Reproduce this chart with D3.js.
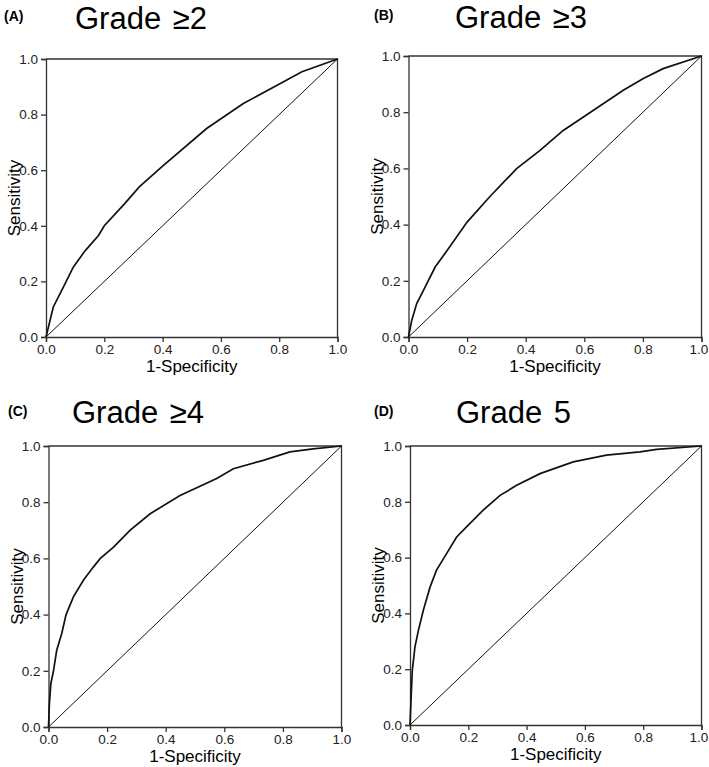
<!DOCTYPE html>
<html>
<head>
<meta charset="utf-8">
<script src="https://cdn.jsdelivr.net/npm/d3@7"></script>
<style>
  body { margin: 0; background: #fff; }
  svg { display: block; font-family: "Liberation Sans", Arial, sans-serif; }
</style>
</head>
<body>
<svg id="chart" width="709" height="767"></svg>
<script>
// ROC curves (1-specificity, sensitivity)
const fprA = [0, 0.025, 0.06, 0.094, 0.134, 0.18, 0.2, 0.27, 0.32, 0.397, 0.551, 0.677, 0.815, 0.878, 1];
const tprA = [0, 0.108, 0.18, 0.252, 0.31, 0.365, 0.40, 0.48, 0.54, 0.612, 0.75, 0.84, 0.918, 0.954, 1];

const fprB = [0, 0.011, 0.028, 0.051, 0.091, 0.136, 0.2, 0.278, 0.369, 0.449, 0.528, 0.597, 0.733, 0.80, 0.869, 1];
const tprB = [0, 0.059, 0.119, 0.166, 0.249, 0.314, 0.409, 0.50, 0.599, 0.664, 0.735, 0.783, 0.878, 0.919, 0.955, 1];

const fprC = [0, 0.003, 0.008, 0.017, 0.028, 0.045, 0.06, 0.085, 0.119, 0.153, 0.176, 0.222, 0.278, 0.347, 0.449, 0.574, 0.631, 0.733, 0.824, 0.903, 1];
const tprC = [0, 0.083, 0.154, 0.20, 0.273, 0.332, 0.40, 0.463, 0.522, 0.569, 0.599, 0.64, 0.70, 0.759, 0.824, 0.884, 0.919, 0.949, 0.979, 0.99, 1];

const fprD = [0, 0.003, 0.008, 0.017, 0.029, 0.046, 0.069, 0.091, 0.126, 0.16, 0.194, 0.251, 0.309, 0.366, 0.446, 0.56, 0.674, 0.789, 0.846, 1];
const tprD = [0, 0.078, 0.197, 0.28, 0.34, 0.412, 0.495, 0.555, 0.615, 0.674, 0.71, 0.77, 0.823, 0.859, 0.901, 0.943, 0.967, 0.979, 0.988, 1];

const panelTags = ["(A)", "(B)", "(C)", "(D)"];
const panelTitles = ["Grade \u22652", "Grade \u22653", "Grade \u22654", "Grade 5"];
const tickValues = [0, 0.2, 0.4, 0.6, 0.8, 1.0];
const xLabel = "1-Specificity";
const yLabel = "Sensitivity";

// where each panel sits on the page
const layout = [
    { left: 46,    top: 59,  right: 337.5, bottom: 337, titleX: 75,  titleY: 28.5, tagX: 4,   tagY: 21 },
    { left: 408.5, top: 56,  right: 701.5, bottom: 337, titleX: 455, titleY: 28,   tagX: 374, tagY: 20 },
    { left: 48.5,  top: 446, right: 341.5, bottom: 727, titleX: 72,  titleY: 423,  tagX: 8,   tagY: 416 },
    { left: 410,   top: 446, right: 701.5, bottom: 725, titleX: 456, titleY: 423,  tagX: 374, tagY: 416 }
];

const curves = [[fprA, tprA], [fprB, tprB], [fprC, tprC], [fprD, tprD]];

const svg = d3.select("#chart");

curves.forEach(function (c, i) {
    const L = layout[i];
    const x = d3.scaleLinear().domain([0, 1]).range([L.left, L.right]);
    const y = d3.scaleLinear().domain([0, 1]).range([L.bottom, L.top]);
    const g = svg.append("g");

    g.append("text")
        .attr("x", L.tagX).attr("y", L.tagY)
        .attr("font-size", 14).attr("font-weight", "bold")
        .text(panelTags[i]);

    g.append("text")
        .attr("x", L.titleX).attr("y", L.titleY)
        .attr("font-size", 31)
        .attr("word-spacing", 3)
        .text(panelTitles[i]);

    // top and right sides of the box
    g.append("path")
        .attr("d", "M" + x(0) + "," + y(1) + "H" + x(1) + "V" + y(0))
        .attr("fill", "none").attr("stroke", "#333").attr("stroke-width", 1.3);

    const xAxis = g.append("g")
        .attr("transform", "translate(0," + y(0) + ")")
        .call(d3.axisBottom(x).tickValues(tickValues).tickFormat(d3.format(".1f")).tickSize(5).tickPadding(2));
    const yAxis = g.append("g")
        .attr("transform", "translate(" + x(0) + ",0)")
        .call(d3.axisLeft(y).tickValues(tickValues).tickFormat(d3.format(".1f")).tickSize(5).tickPadding(3));

    [xAxis, yAxis].forEach(function (a) {
        a.select(".domain").attr("stroke", "#333").attr("stroke-width", 1.3);
        a.selectAll(".tick line").attr("stroke", "#333").attr("stroke-width", 1.3);
        a.selectAll(".tick text").attr("fill", "#222").attr("font-size", 13.5)
            .attr("font-family", "Liberation Sans, Arial, sans-serif");
    });
    // right-hand panels: keep last label inside the page
    if (L.right > 690) {
        xAxis.selectAll(".tick text").filter(function (d) { return d === 1; }).attr("dx", -3);
    }

    g.append("text")
        .attr("x", (L.left + L.right) / 2).attr("y", L.bottom + 35)
        .attr("text-anchor", "middle").attr("font-size", 17)
        .text(xLabel);

    g.append("text")
        .attr("transform", "translate(" + (L.left - 26) + "," + ((L.top + L.bottom) / 2) + ") rotate(-90)")
        .attr("text-anchor", "middle").attr("font-size", 17)
        .text(yLabel);

    // chance line
    g.append("line")
        .attr("x1", x(0)).attr("y1", y(0)).attr("x2", x(1)).attr("y2", y(1))
        .attr("stroke", "#111").attr("stroke-width", 1);

    const pts = c[0].map(function (v, k) { return [v, c[1][k]]; });
    g.append("path")
        .datum(pts)
        .attr("fill", "none").attr("stroke", "#111").attr("stroke-width", 1.7)
        .attr("d", d3.line().x(function (d) { return x(d[0]); }).y(function (d) { return y(d[1]); }));
});
</script>
</body>
</html>
